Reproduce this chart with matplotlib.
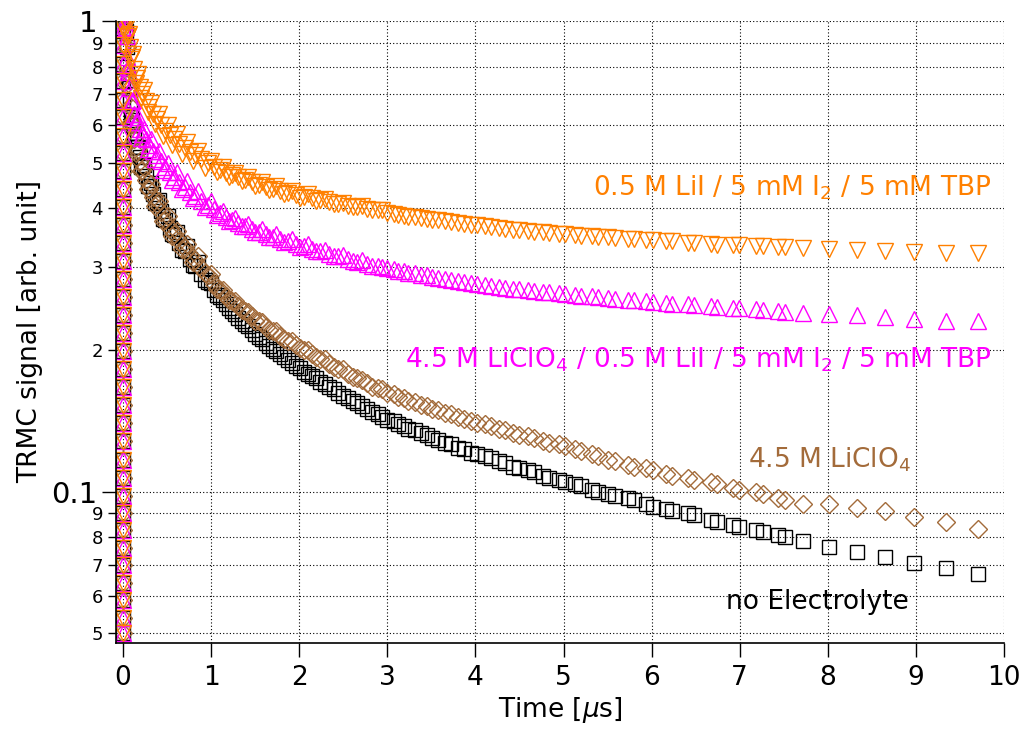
import matplotlib
matplotlib.use("Agg")
import matplotlib.pyplot as plt

# time axis [us] of the main (log-binned) sampling
t_main = [0.02, 0.04, 0.06, 0.08, 0.10, 0.13, 0.16, 0.19, 0.22, 0.26, 0.30, 0.34,
          0.38, 0.43, 0.48, 0.53, 0.58, 0.64, 0.70, 0.76, 0.82, 0.89, 0.96,
          1.03, 1.10, 1.17, 1.24, 1.31, 1.38, 1.46, 1.54, 1.62, 1.70, 1.78, 1.87,
          1.96, 2.05, 2.14, 2.24, 2.34, 2.44, 2.55, 2.66, 2.77, 2.89,
          3.00, 3.12, 3.24, 3.38, 3.51, 3.65, 3.80, 3.95, 4.11, 4.27, 4.43, 4.60,
          4.77, 4.95, 5.13, 5.32, 5.51, 5.73, 5.94, 6.16, 6.41, 6.67, 6.92, 7.19,
          7.44, 7.72, 8.01, 8.33, 8.65, 8.98, 9.34, 9.70]

# second acquisition (noisier at early times, shows up as doubled markers later)
t_second = [0.03, 0.05, 0.07, 0.09, 0.115, 0.145, 0.175, 0.205, 0.24, 0.28, 0.32, 0.36,
            0.405, 0.455, 0.505, 0.555, 0.61, 0.67, 0.73, 0.79, 0.855, 0.925, 0.995,
            1.065, 1.135, 1.205, 1.275, 1.345, 1.42, 1.50, 1.58, 1.66, 1.74, 1.825,
            1.915, 2.005, 2.095, 2.19, 2.29, 2.39, 2.495, 2.605, 2.715, 2.83, 2.945,
            3.07, 3.19, 3.31, 3.45, 3.58, 3.72, 3.87, 4.02, 4.18, 4.34, 4.50, 4.67,
            4.84, 5.02, 5.20, 5.39, 5.58, 5.80, 6.01, 6.23, 6.48, 6.74, 6.99, 7.26, 7.51]

# rising edge, all points near t = 0
t_rise = 0.0
rise = [0.050, 0.054, 0.059, 0.064, 0.070, 0.076, 0.083, 0.090, 0.098, 0.107, 0.117,
        0.128, 0.140, 0.153, 0.167, 0.182, 0.199, 0.217, 0.237, 0.259, 0.283, 0.309,
        0.337, 0.368, 0.402, 0.439, 0.479, 0.523, 0.571, 0.624, 0.681, 0.744, 0.812,
        0.887, 0.968]

no_elec = [1.0, 0.88, 0.75, 0.67, 0.615, 0.57, 0.54, 0.515, 0.492, 0.468, 0.447, 0.428,
           0.412, 0.394, 0.378, 0.364, 0.351, 0.337, 0.324, 0.312, 0.301, 0.290, 0.279,
           0.268, 0.259, 0.250, 0.242, 0.234, 0.227, 0.220, 0.213, 0.207, 0.201, 0.196, 0.190,
           0.185, 0.180, 0.176, 0.171, 0.167, 0.162, 0.158, 0.154, 0.150, 0.146,
           0.142, 0.139, 0.136, 0.133, 0.130, 0.127, 0.124, 0.121, 0.119, 0.116, 0.113, 0.111,
           0.108, 0.106, 0.104, 0.101, 0.099, 0.097, 0.094, 0.092, 0.090, 0.087, 0.085, 0.083,
           0.081, 0.0787, 0.0763, 0.0745, 0.0728, 0.0706, 0.0688, 0.0667]
no_elec_2 = [0.95, 0.80, 0.72, 0.63, 0.60, 0.54, 0.54, 0.49, 0.495, 0.447, 0.452, 0.41,
             0.417, 0.38, 0.385, 0.352, 0.357, 0.326, 0.332, 0.303, 0.308, 0.282, 0.278,
             0.262, 0.256, 0.245, 0.239, 0.230, 0.225, 0.216, 0.211, 0.204, 0.199, 0.193,
             0.188, 0.183, 0.178, 0.174, 0.169, 0.165, 0.160, 0.156, 0.152, 0.148, 0.144,
             0.141, 0.138, 0.135, 0.132, 0.129, 0.126, 0.123, 0.120, 0.118, 0.115, 0.112, 0.110,
             0.107, 0.105, 0.103, 0.100, 0.098, 0.096, 0.093, 0.091, 0.089, 0.086, 0.084, 0.082, 0.080]

liclo4 = [1.0, 0.88, 0.74, 0.66, 0.605, 0.56, 0.53, 0.505, 0.482, 0.46, 0.44, 0.423,
          0.408, 0.392, 0.377, 0.364, 0.352, 0.340, 0.329, 0.319, 0.310, 0.298, 0.289,
          0.276, 0.268, 0.261, 0.254, 0.248, 0.242, 0.236, 0.230, 0.224, 0.219, 0.214, 0.209,
          0.205, 0.200, 0.196, 0.191, 0.187, 0.182, 0.178, 0.174, 0.170, 0.166,
          0.162, 0.159, 0.156, 0.153, 0.150, 0.147, 0.144, 0.141, 0.139, 0.136, 0.133, 0.131,
          0.128, 0.126, 0.123, 0.120, 0.117, 0.114, 0.112, 0.109, 0.107, 0.105, 0.102, 0.100,
          0.097, 0.0943, 0.094, 0.0922, 0.091, 0.0885, 0.086, 0.0834]
liclo4_2 = [0.95, 0.78, 0.72, 0.61, 0.60, 0.525, 0.535, 0.48, 0.49, 0.44, 0.45, 0.405,
            0.415, 0.375, 0.385, 0.35, 0.358, 0.327, 0.336, 0.308, 0.316, 0.291, 0.290,
            0.270, 0.268, 0.256, 0.254, 0.243, 0.241, 0.231, 0.229, 0.221, 0.219, 0.211,
            0.209, 0.202, 0.200, 0.193, 0.191, 0.184, 0.182, 0.175, 0.173, 0.167, 0.165,
            0.161, 0.158, 0.155, 0.152, 0.149, 0.146, 0.143, 0.140, 0.138, 0.135, 0.132, 0.130,
            0.127, 0.125, 0.122, 0.119, 0.116, 0.113, 0.111, 0.108, 0.106, 0.104, 0.101, 0.099, 0.096]

liclo4_lii = [1.0, 0.93, 0.80, 0.72, 0.675, 0.635, 0.61, 0.59, 0.575, 0.56, 0.545, 0.53,
              0.518, 0.503, 0.49, 0.478, 0.467, 0.455, 0.444, 0.434, 0.425, 0.415, 0.406,
              0.398, 0.391, 0.384, 0.378, 0.372, 0.367, 0.362, 0.357, 0.352, 0.348, 0.344, 0.340,
              0.336, 0.332, 0.328, 0.324, 0.320, 0.316, 0.312, 0.308, 0.305, 0.301,
              0.298, 0.295, 0.292, 0.289, 0.286, 0.283, 0.280, 0.277, 0.275, 0.272, 0.270, 0.268,
              0.266, 0.264, 0.262, 0.260, 0.258, 0.256, 0.254, 0.252, 0.250, 0.248, 0.246, 0.244,
              0.242, 0.240, 0.239, 0.237, 0.235, 0.233, 0.231, 0.230]
liclo4_lii_2 = [0.97, 0.84, 0.78, 0.68, 0.68, 0.61, 0.625, 0.565, 0.59, 0.535, 0.56, 0.508,
                0.53, 0.482, 0.50, 0.46, 0.478, 0.44, 0.458, 0.42, 0.436, 0.403, 0.415,
                0.388, 0.395, 0.376, 0.382, 0.366, 0.371, 0.356, 0.361, 0.347, 0.352, 0.339,
                0.344, 0.331, 0.336, 0.324, 0.326, 0.317, 0.318, 0.309, 0.310, 0.302, 0.300,
                0.297, 0.294, 0.291, 0.288, 0.285, 0.282, 0.279, 0.276, 0.274, 0.271, 0.269, 0.267,
                0.265, 0.263, 0.261, 0.259, 0.257, 0.255, 0.253, 0.251, 0.249, 0.247, 0.245, 0.243, 0.241]

lii = [1.0, 0.98, 0.93, 0.88, 0.84, 0.79, 0.755, 0.725, 0.70, 0.675, 0.655, 0.635,
       0.62, 0.60, 0.585, 0.572, 0.56, 0.548, 0.537, 0.527, 0.518, 0.508, 0.498,
       0.49, 0.483, 0.476, 0.47, 0.465, 0.46, 0.454, 0.449, 0.444, 0.44, 0.436, 0.431,
       0.427, 0.423, 0.42, 0.416, 0.412, 0.409, 0.405, 0.402, 0.399, 0.396,
       0.390, 0.387, 0.384, 0.381, 0.378, 0.375, 0.372, 0.369, 0.366, 0.363, 0.360, 0.358,
       0.356, 0.353, 0.351, 0.349, 0.347, 0.345, 0.343, 0.341, 0.338, 0.336, 0.334, 0.333,
       0.331, 0.330, 0.328, 0.326, 0.325, 0.323, 0.322, 0.321]
lii_2 = [0.99, 0.93, 0.94, 0.83, 0.85, 0.74, 0.77, 0.685, 0.715, 0.64, 0.67, 0.605,
         0.635, 0.57, 0.60, 0.545, 0.575, 0.522, 0.552, 0.504, 0.53, 0.488, 0.505,
         0.478, 0.489, 0.465, 0.476, 0.456, 0.466, 0.445, 0.455, 0.437, 0.445, 0.429,
         0.436, 0.421, 0.428, 0.415, 0.418, 0.408, 0.41, 0.402, 0.404, 0.396, 0.397,
         0.389, 0.386, 0.383, 0.380, 0.377, 0.374, 0.371, 0.368, 0.365, 0.362, 0.360, 0.357,
         0.355, 0.352, 0.350, 0.348, 0.346, 0.344, 0.342, 0.340, 0.337, 0.335, 0.334, 0.332, 0.331]

y_major = [0.1, 1]
y_major_labels = ["0.1", "1"]
y_minor = [0.05, 0.06, 0.07, 0.08, 0.09, 0.2, 0.3, 0.4, 0.5, 0.6, 0.7, 0.8, 0.9]
y_minor_labels = ["5", "6", "7", "8", "9", "2", "3", "4", "5", "6", "7", "8", "9"]
x_ticks = [0, 1, 2, 3, 4, 5, 6, 7, 8, 9, 10]

c_black = "black"
c_brown = "#a36b3a"
c_magenta = "#ff00ff"
c_orange = "#ff8000"

plt.rcParams["font.family"] = ["DejaVu Sans"]
plt.rcParams["mathtext.fontset"] = "dejavusans"

fig = plt.figure(figsize=(10.22, 7.33), dpi=100)
ax = fig.add_axes([0.1135, 0.1228, 0.8689, 0.8486])

series = [
    (no_elec, no_elec_2, "s", 10.0, c_black),
    (liclo4, liclo4_2, "D", 9.5, c_brown),
    (liclo4_lii, liclo4_lii_2, "^", 12.0, c_magenta),
    (lii, lii_2, "v", 12.0, c_orange),
]
for main, second, mk, ms, col in series:
    kw = dict(ls="none", marker=mk, ms=ms, mfc="none", mec=col, mew=1.0)
    ax.plot([t_rise] * len(rise), rise, **kw)
    ax.plot(t_main, main, **kw)
    ax.plot(t_second, second, **kw)

ax.set_yscale("log")
ax.set_xlim(-0.08, 10)
ax.set_ylim(0.0477, 1.0)

ax.set_yticks(y_major)
ax.set_yticklabels(y_major_labels, fontsize=21)
ax.set_yticks(y_minor, minor=True)
ax.set_yticklabels(y_minor_labels, minor=True, fontsize=13)
ax.set_xticks(x_ticks)
ax.set_xticklabels([str(v) for v in x_ticks], fontsize=19)

ax.tick_params(axis="y", which="major", direction="out", length=10, width=1)
ax.tick_params(axis="y", which="minor", direction="out", length=6, width=1)
ax.tick_params(axis="x", which="major", direction="out", length=10, width=1, pad=6)
ax.xaxis.set_minor_locator(matplotlib.ticker.NullLocator())

ax.grid(True, axis="y", which="both", ls=(0, (1, 2)), color="black", lw=0.8)
ax.grid(True, axis="x", which="major", ls=(0, (1, 2)), color="black", lw=0.8)
ax.set_axisbelow(True)

for side in ["top", "right"]:
    ax.spines[side].set_visible(False)
for side in ["left", "bottom"]:
    ax.spines[side].set_linewidth(1.2)

ax.set_xlabel(r"Time [$\mu$s]", fontsize=19, labelpad=3)
ax.set_ylabel("TRMC signal [arb. unit]", fontsize=19, labelpad=6)

ax.text(9.86, 0.426, r"0.5 M LiI / 5 mM I$_2$ / 5 mM TBP", color=c_orange,
        fontsize=19, ha="right", va="baseline")
ax.text(9.86, 0.1835, r"4.5 M LiClO$_4$ / 0.5 M LiI / 5 mM I$_2$ / 5 mM TBP",
        color=c_magenta, fontsize=19, ha="right", va="baseline")
ax.text(8.94, 0.1126, r"4.5 M LiClO$_4$", color=c_brown, fontsize=19,
        ha="right", va="baseline")
ax.text(7.88, 0.0563, "no Electrolyte", color=c_black, fontsize=19,
        ha="center", va="baseline")

fig.savefig("out.png", dpi=100)
